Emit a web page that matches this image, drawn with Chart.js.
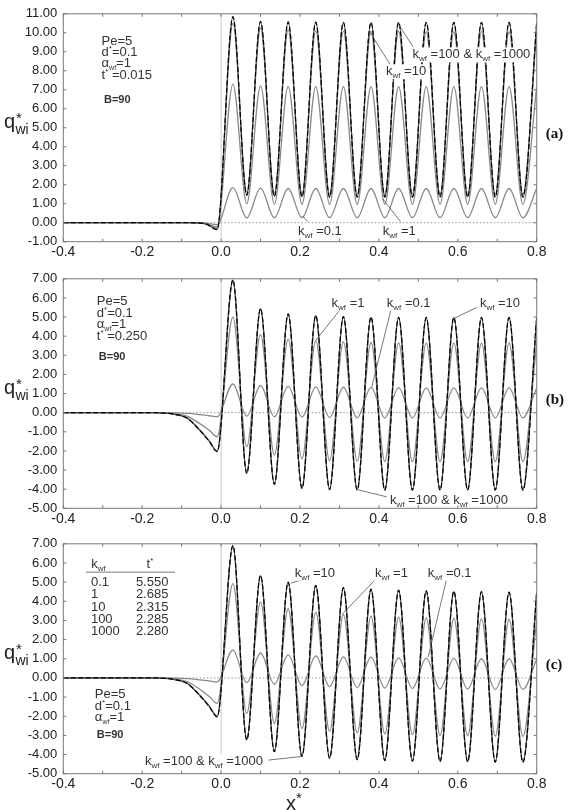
<!DOCTYPE html>
<html><head><meta charset="utf-8">
<script src="https://cdn.jsdelivr.net/npm/chart.js@4.4.1/dist/chart.umd.min.js"></script>
<style>
html,body{margin:0;padding:0;background:#fff;width:570px;height:810px;overflow:hidden;}
canvas{position:absolute;left:0;}
</style></head><body>
<canvas id="ca" width="570" height="262" style="top:0px"></canvas>
<canvas id="cb" width="570" height="262" style="top:265px"></canvas>
<canvas id="cc" width="570" height="280" style="top:530px"></canvas>
<script>
// ---------- tick labels ----------
const xTickVals  = [-0.4, -0.2, 0.0, 0.2, 0.4, 0.6, 0.8];
const xMinorVals = [-0.4, -0.3, -0.2, -0.1, 0.0, 0.1, 0.2, 0.3, 0.4, 0.5, 0.6, 0.7, 0.8];
const yTicksA  = [-1, 0, 1, 2, 3, 4, 5, 6, 7, 8, 9, 10, 11];
const yTicksBC = [-5, -4, -3, -2, -1, 0, 1, 2, 3, 4, 5, 6, 7];
const seriesNames = ['k_wf=1000', 'k_wf=100', 'k_wf=10', 'k_wf=1', 'k_wf=0.1'];

// ---------- panel (a), t* = 0.015 ----------
const xA = [-0.4, -0.08, -0.04, -0.01,
  0.03, 0.065, 0.10, 0.135, 0.17, 0.205, 0.24, 0.275, 0.31, 0.345, 0.38, 0.415,
  0.45, 0.485, 0.52, 0.555, 0.59, 0.625, 0.66, 0.695, 0.73, 0.765, 0.80];
const yA1000 = [0, 0, -0.06, -0.36, 10.85, 1.45, 10.60, 1.38, 10.57, 1.36, 10.56, 1.35, 10.55, 1.35, 10.55, 1.35, 10.55, 1.35, 10.55, 1.35, 10.55, 1.35, 10.55, 1.35, 10.55, 1.35, 10.55];
const yA100  = [0, 0, -0.06, -0.35, 10.83, 1.46, 10.59, 1.39, 10.56, 1.37, 10.55, 1.36, 10.54, 1.36, 10.54, 1.36, 10.54, 1.36, 10.54, 1.36, 10.54, 1.36, 10.54, 1.36, 10.54, 1.36, 10.54];
const yA10   = [0, 0, -0.05, -0.30, 10.50, 1.60, 10.25, 1.55, 10.15, 1.52, 10.10, 1.50, 10.08, 1.50, 10.07, 1.50, 10.07, 1.50, 10.06, 1.50, 10.06, 1.50, 10.06, 1.50, 10.06, 1.50, 10.06];
const yA1    = [0, 0, -0.04, -0.22, 7.30, 1.00, 7.20, 0.98, 7.18, 0.97, 7.17, 0.97, 7.17, 0.97, 7.17, 0.97, 7.17, 0.97, 7.17, 0.97, 7.17, 0.97, 7.17, 0.97, 7.17, 0.97, 7.17];
const yA01   = [0, 0, -0.02, -0.10, 1.85, 0.25, 1.82, 0.26, 1.80, 0.26, 1.80, 0.26, 1.80, 0.26, 1.80, 0.26, 1.80, 0.26, 1.80, 0.26, 1.80, 0.26, 1.80, 0.26, 1.80, 0.26, 1.80];

// ---------- panel (b), t* = 0.250 ----------
const xB = [-0.4, -0.17, -0.12, -0.085, -0.055, -0.03, -0.01,
  0.03, 0.065, 0.10, 0.135, 0.17, 0.205, 0.24, 0.275, 0.31, 0.345, 0.38, 0.415,
  0.45, 0.485, 0.52, 0.555, 0.59, 0.625, 0.66, 0.695, 0.73, 0.765, 0.80];
const yB1000 = [0, 0, -0.08, -0.30, -0.90, -1.50, -2.04, 6.95, -3.17, 5.45, -3.75, 5.17, -3.96, 5.09, -4.02, 5.03, -4.04, 5.00, -4.05, 4.99, -4.05, 4.98, -4.05, 4.98, -4.05, 4.98, -4.05, 4.98, -4.05, 4.98];
const yB100  = [0, 0, -0.08, -0.30, -0.90, -1.49, -2.03, 6.93, -3.16, 5.44, -3.74, 5.16, -3.95, 5.08, -4.01, 5.02, -4.03, 4.99, -4.04, 4.98, -4.04, 4.97, -4.04, 4.97, -4.04, 4.97, -4.04, 4.97, -4.04, 4.97];
const yB10   = [0, 0, -0.08, -0.29, -0.88, -1.47, -2.00, 6.85, -3.12, 5.38, -3.70, 5.12, -3.92, 5.04, -3.98, 4.99, -4.00, 4.96, -4.01, 4.95, -4.01, 4.95, -4.01, 4.95, -4.01, 4.95, -4.01, 4.95, -4.01, 4.95];
const yB1    = [0, 0, -0.05, -0.19, -0.56, -0.92, -1.26, 5.00, -1.78, 4.08, -2.22, 3.85, -2.42, 3.75, -2.50, 3.70, -2.53, 3.67, -2.55, 3.65, -2.56, 3.64, -2.56, 3.64, -2.56, 3.64, -2.56, 3.64, -2.56, 3.64];
const yB01   = [0, 0, -0.01, -0.04, -0.10, -0.16, -0.21, 1.50, -0.18, 1.42, -0.21, 1.38, -0.23, 1.35, -0.25, 1.33, -0.26, 1.32, -0.27, 1.31, -0.27, 1.30, -0.27, 1.30, -0.27, 1.30, -0.27, 1.30, -0.27, 1.30];

// ---------- panel (c), steady periodic ----------
const xC = [-0.4, -0.17, -0.12, -0.085, -0.055, -0.03, -0.01,
  0.03, 0.065, 0.10, 0.135, 0.17, 0.205, 0.24, 0.275, 0.31, 0.345, 0.38, 0.415,
  0.45, 0.485, 0.52, 0.555, 0.59, 0.625, 0.66, 0.695, 0.73, 0.765, 0.80];
const yC1000 = [0, 0, -0.08, -0.30, -0.90, -1.50, -2.03, 6.91, -3.24, 5.35, -3.85, 5.00, -4.10, 4.83, -4.20, 4.71, -4.27, 4.63, -4.32, 4.58, -4.35, 4.55, -4.37, 4.52, -4.38, 4.50, -4.40, 4.48, -4.40, 4.47];
const yC100  = [0, 0, -0.08, -0.30, -0.90, -1.49, -2.02, 6.89, -3.23, 5.34, -3.84, 4.99, -4.09, 4.82, -4.19, 4.70, -4.26, 4.62, -4.31, 4.57, -4.34, 4.54, -4.36, 4.51, -4.37, 4.49, -4.39, 4.47, -4.39, 4.46];
const yC10   = [0, 0, -0.08, -0.29, -0.88, -1.47, -1.99, 6.85, -3.20, 5.30, -3.80, 4.96, -4.05, 4.80, -4.15, 4.68, -4.22, 4.60, -4.27, 4.55, -4.30, 4.52, -4.32, 4.49, -4.33, 4.47, -4.35, 4.45, -4.35, 4.44];
const yC1    = [0, 0, -0.05, -0.20, -0.58, -0.97, -1.33, 4.92, -1.85, 3.96, -2.38, 3.61, -2.64, 3.42, -2.78, 3.30, -2.87, 3.22, -2.92, 3.17, -2.96, 3.13, -3.00, 3.10, -3.02, 3.08, -3.04, 3.05, -3.05, 3.04];
const yC01   = [0, 0, -0.01, -0.04, -0.10, -0.16, -0.21, 1.45, -0.25, 1.30, -0.33, 1.20, -0.40, 1.15, -0.45, 1.10, -0.50, 1.08, -0.53, 1.05, -0.55, 1.03, -0.57, 1.02, -0.58, 1.00, -0.60, 1.00, -0.60, 0.98];

// ---------- table in panel (c) ----------
const tableK = ['0.1', '1', '10', '100', '1000'];
const tableT = ['5.550', '2.685', '2.315', '2.285', '2.280'];

// ---------- styles ----------
const FONT = '"Liberation Sans", Arial, sans-serif';
const styles = [
  {color: '#000000', w: 1.2, dash: [5, 2.5]},
  {color: '#555555', w: 1.2, dash: []},
  {color: '#7a7a7a', w: 1.2, dash: []},
  {color: '#8a8a8a', w: 1.3, dash: []},
  {color: '#8a8a8a', w: 1.3, dash: []}
];

function K(v) { return [['k', 13], ['wf', 8, 3], [' =' + v, 13]]; }

function segsWidth(ctx, segs) {
  let w = 0;
  for (const s of segs) {
    ctx.font = (s[3] ? 'bold ' : '') + s[1] + 'px ' + FONT;
    w += ctx.measureText(s[0]).width;
  }
  return w;
}

function drawSegs(ctx, segs, px, py, bg) {
  if (bg) {
    const w = segsWidth(ctx, segs);
    ctx.save(); ctx.fillStyle = '#ffffff';
    ctx.fillRect(px - 1, py - 11, w + 2, 15);
    ctx.restore();
  }
  let cx = px;
  for (const s of segs) {
    const t = s[0], size = s[1], dy = s[2] || 0, bold = s[3] || false;
    ctx.font = (bold ? 'bold ' : '') + size + 'px ' + FONT;
    ctx.fillText(t, cx, py + dy);
    cx += ctx.measureText(t).width;
  }
}

function panelPlugin(o) {
  return {
    id: 'panel_' + o.tag,
    beforeDatasetsDraw(chart) {
      const ctx = chart.ctx, a = chart.chartArea, xs = chart.scales.x, ys = chart.scales.y;
      ctx.save();
      const x0 = xs.getPixelForValue(0);
      ctx.strokeStyle = '#cccccc'; ctx.lineWidth = 1;
      ctx.beginPath(); ctx.moveTo(x0, a.top); ctx.lineTo(x0, a.bottom); ctx.stroke();
      const y0 = ys.getPixelForValue(0);
      ctx.setLineDash([1.5, 2]); ctx.strokeStyle = '#999999';
      ctx.beginPath(); ctx.moveTo(a.left, y0); ctx.lineTo(a.right, y0); ctx.stroke();
      ctx.restore();
    },
    afterDraw(chart) {
      const ctx = chart.ctx, a = chart.chartArea, xs = chart.scales.x, ys = chart.scales.y;
      ctx.save();
      // leader lines
      ctx.strokeStyle = '#555555'; ctx.lineWidth = 0.8;
      for (const l of o.lines) {
        ctx.beginPath();
        ctx.moveTo(xs.getPixelForValue(l[0]), ys.getPixelForValue(l[1]));
        ctx.lineTo(xs.getPixelForValue(l[2]), ys.getPixelForValue(l[3]));
        ctx.stroke();
      }
      // texts
      ctx.fillStyle = '#333333'; ctx.textBaseline = 'alphabetic'; ctx.textAlign = 'left';
      for (const t of o.texts) {
        drawSegs(ctx, t.segs, xs.getPixelForValue(t.x), ys.getPixelForValue(t.y) + 4.5, t.bg);
      }
      // frame
      ctx.strokeStyle = '#777777'; ctx.lineWidth = 1;
      ctx.strokeRect(a.left, a.top, a.right - a.left, a.bottom - a.top);
      // inward ticks
      ctx.beginPath();
      for (const v of xMinorVals) {
        const p = xs.getPixelForValue(v);
        ctx.moveTo(p, a.bottom); ctx.lineTo(p, a.bottom - 3);
        ctx.moveTo(p, a.top); ctx.lineTo(p, a.top + 3);
      }
      for (const v of o.yTicks) {
        const p = ys.getPixelForValue(v);
        ctx.moveTo(a.left, p); ctx.lineTo(a.left + 3, p);
        ctx.moveTo(a.right, p); ctx.lineTo(a.right - 3, p);
      }
      ctx.stroke();
      // y title q*_wi
      const cy = (a.top + a.bottom) / 2;
      ctx.fillStyle = '#222222';
      ctx.font = '20px ' + FONT; ctx.fillText('q', 4, cy);
      ctx.font = '15px ' + FONT; ctx.fillText('*', 16, cy - 5);
      ctx.font = '14px ' + FONT; ctx.fillText('wi', 15.5, cy + 6);
      // panel letter
      ctx.fillStyle = '#111111';
      ctx.font = 'bold 15px "Liberation Serif", "Times New Roman", serif';
      ctx.fillText(o.tag, a.right + 9, cy + 10);
      // x title
      if (o.xTitle) {
        ctx.fillStyle = '#222222';
        ctx.font = '20px ' + FONT; ctx.fillText('x', 286, a.bottom + 36);
        ctx.font = '15px ' + FONT; ctx.fillText('*', 296, a.bottom + 29);
      }
      ctx.restore();
    }
  };
}

function makeChart(id, xs, ysList, yTicks, o) {
  o.yTicks = yTicks;
  const datasets = ysList.map((ys, i) => ({
    label: seriesNames[i],
    data: xs.map((x, j) => ({x: x, y: ys[j]})),
    borderColor: styles[i].color,
    borderWidth: styles[i].w,
    borderDash: styles[i].dash,
    pointRadius: 0,
    fill: false,
    cubicInterpolationMode: 'monotone'
  }));
  return new Chart(document.getElementById(id), {
    type: 'line',
    data: {datasets: datasets},
    options: {
      responsive: false, animation: false, devicePixelRatio: 1,
      layout: {padding: {top: o.top, right: 33.3, left: 0, bottom: 0}},
      plugins: {legend: {display: false}, tooltip: {enabled: false}},
      scales: {
        x: {
          type: 'linear', min: -0.4, max: 0.8,
          grid: {display: false, drawTicks: false}, border: {display: false},
          afterBuildTicks: s => { s.ticks = xTickVals.map(v => ({value: v})); },
          afterFit: s => { s.height = o.xh; },
          ticks: {color: '#222222', font: {family: FONT, size: 14}, padding: o.xpad, maxRotation: 0, autoSkip: false,
                  callback: v => Number(v).toFixed(1)}
        },
        y: {
          type: 'linear', min: yTicks[0], max: yTicks[yTicks.length - 1],
          grid: {display: false, drawTicks: false}, border: {display: false},
          afterBuildTicks: s => { s.ticks = yTicks.map(v => ({value: v})); },
          afterFit: s => { s.width = 63.3; },
          ticks: {color: '#222222', font: {family: FONT, size: 13}, padding: 6, autoSkip: false,
                  callback: v => Number(v).toFixed(2)}
        }
      }
    },
    plugins: [panelPlugin(o)]
  });
}

// ---------- panel (a) ----------
makeChart('ca', xA, [yA1000, yA100, yA10, yA1, yA01], yTicksA, {
  tag: '(a)', top: 11.7, xh: 20.3, xpad: 2,
  texts: [
    {x: -0.303, y: 9.62, segs: [['Pe=5', 13]]},
    {x: -0.303, y: 9.03, segs: [['d', 13], ['*', 8, -5], ['=0.1', 13]]},
    {x: -0.303, y: 8.43, segs: [['\u03b1', 13], ['wf', 7, 3], ['=1', 13]]},
    {x: -0.303, y: 7.80, segs: [['t', 13], ['*', 8, -5], [' =0.015', 13]]},
    {x: -0.297, y: 6.55, segs: [['B=90', 11, 0, true]]},
    {x: 0.485, y: 8.89, segs: K('100 & ').concat(K('1000')), bg: true},
    {x: 0.418, y: 8.00, segs: K('10'), bg: true},
    {x: 0.195, y: -0.39, segs: K('0.1')},
    {x: 0.410, y: -0.39, segs: K('1')}
  ],
  lines: [
    [0.487, 9.25, 0.448, 10.50],
    [0.428, 8.35, 0.378, 10.00],
    [0.220, 0.05, 0.207, 0.35],
    [0.455, 0.05, 0.410, 1.25]
  ]
});

// ---------- panel (b) ----------
makeChart('cb', xB, [yB1000, yB100, yB10, yB1, yB01], yTicksBC, {
  tag: '(b)', top: 13.3, xh: 18.7, xpad: 2,
  texts: [
    {x: -0.315, y: 5.87, segs: [['Pe=5', 13]]},
    {x: -0.315, y: 5.26, segs: [['d', 13], ['*', 8, -5], ['=0.1', 13]]},
    {x: -0.315, y: 4.65, segs: [['\u03b1', 13], ['wf', 7, 3], ['=1', 13]]},
    {x: -0.315, y: 4.04, segs: [['t', 13], ['*', 8, -5], [' =0.250', 13]]},
    {x: -0.310, y: 3.00, segs: [['B=90', 11, 0, true]]},
    {x: 0.280, y: 5.78, segs: K('1'), bg: true},
    {x: 0.420, y: 5.78, segs: K('0.1'), bg: true},
    {x: 0.656, y: 5.78, segs: K('10'), bg: true},
    {x: 0.428, y: -4.53, segs: K('100 & ').concat(K('1000')), bg: true}
  ],
  lines: [
    [0.306, 5.50, 0.240, 3.78],
    [0.432, 5.50, 0.382, 1.35],
    [0.648, 5.50, 0.592, 4.95],
    [0.420, -4.40, 0.348, -4.04]
  ]
});

// ---------- panel (c) ----------
const tableTexts = [];
tableK.forEach((k, i) => {
  const yy = [5.04, 4.40, 3.73, 3.09, 2.45][i];
  tableTexts.push({x: -0.330, y: yy, segs: [[k, 13]]});
  tableTexts.push({x: -0.216, y: yy, segs: [[tableT[i], 13]]});
});
makeChart('cc', xC, [yC1000, yC100, yC10, yC1, yC01], yTicksBC, {
  tag: '(c)', top: 13.3, xh: 36.3, xpad: 2, xTitle: true,
  texts: [
    {x: -0.329, y: 5.96, segs: [['k', 13], ['wf', 8, 3]]},
    {x: -0.189, y: 5.96, segs: [['t', 13], ['*', 8, -5]]}
  ].concat(tableTexts).concat([
    {x: -0.320, y: -0.81, segs: [['Pe=5', 13]]},
    {x: -0.320, y: -1.42, segs: [['d', 13], ['*', 8, -5], ['=0.1', 13]]},
    {x: -0.320, y: -2.03, segs: [['\u03b1', 13], ['wf', 7, 3], ['=1', 13]]},
    {x: -0.315, y: -2.90, segs: [['B=90', 11, 0, true]]},
    {x: 0.187, y: 5.52, segs: K('10'), bg: true},
    {x: 0.390, y: 5.52, segs: K('1'), bg: true},
    {x: 0.524, y: 5.52, segs: K('0.1'), bg: true},
    {x: -0.193, y: -4.29, segs: K('100 & ').concat(K('1000')), bg: true}
  ]),
  lines: [
    [-0.343, 5.52, -0.117, 5.52],
    [0.217, 5.20, 0.177, 4.95],
    [0.394, 5.20, 0.306, 3.30],
    [0.572, 5.20, 0.525, 1.09],
    [0.120, -4.29, 0.204, -4.10]
  ]
});
</script>
</body></html>
